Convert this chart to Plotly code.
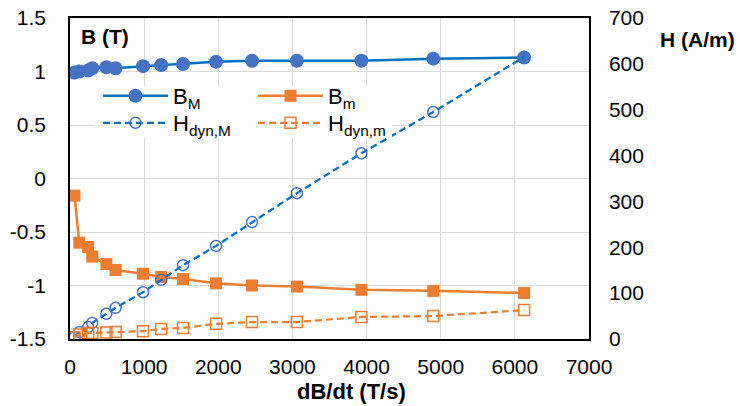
import plotly.graph_objects as go

dBdt = [60, 125, 245, 300, 490, 615, 985, 1230, 1525, 1970, 2455, 3060, 3930, 4900, 6125]
B_M = [0.99, 1.00, 1.01, 1.03, 1.04, 1.03, 1.05, 1.06, 1.07, 1.09, 1.10, 1.10, 1.10, 1.12, 1.13]
B_m = [-0.16, -0.60, -0.64, -0.73, -0.80, -0.855, -0.89, -0.92, -0.94, -0.98, -1.00, -1.01, -1.04, -1.05, -1.07]
H_dyn_M = [4, 15, 26, 35, 55, 68, 102, 129, 161, 203, 255, 318, 405, 495, 615]
H_dyn_m = [4, 10, 13, 13, 14, 15, 17, 22, 24, 33, 37, 37, 48, 50, 63]

x_ticks = [0, 1000, 2000, 3000, 4000, 5000, 6000, 7000]
yl_ticks = [-1.5, -1, -0.5, 0, 0.5, 1, 1.5]
yl_text = ["-1.5", "-1", "-0.5", "0", "0.5", "1", "1.5"]
yr_ticks = [0, 100, 200, 300, 400, 500, 600, 700]

BLUE_LINE = "#0070C0"
BLUE_MK = "#4472C4"
ORANGE = "#ED7D31"
FONT = "Liberation Sans, Arial, sans-serif"

fig = go.Figure()
fig.add_trace(go.Scatter(
    x=dBdt, y=B_M, name="B<sub>M</sub>", mode="lines+markers",
    line=dict(color=BLUE_LINE, width=2.5),
    marker=dict(symbol="circle", size=14, color=BLUE_MK, line=dict(width=0)),
    legend="legend"))
fig.add_trace(go.Scatter(
    x=dBdt, y=H_dyn_M, name="H<sub>dyn,M</sub>", mode="lines+markers", yaxis="y2",
    line=dict(color=BLUE_LINE, width=2.25, dash="7px,4px"),
    marker=dict(symbol="circle-open", size=11, color=BLUE_MK, line=dict(width=1.5, color=BLUE_MK)),
    legend="legend3"))
fig.add_trace(go.Scatter(
    x=dBdt, y=B_m, name="B<sub>m</sub>", mode="lines+markers",
    line=dict(color=ORANGE, width=2.5),
    marker=dict(symbol="square", size=12, color=ORANGE, line=dict(width=0)),
    legend="legend2"))
fig.add_trace(go.Scatter(
    x=dBdt, y=H_dyn_m, name="H<sub>dyn,m</sub>", mode="lines+markers", yaxis="y2",
    line=dict(color=ORANGE, width=2.25, dash="7px,4px"),
    marker=dict(symbol="square-open", size=11, color=ORANGE, line=dict(width=1.5, color=ORANGE)),
    legend="legend4"))

L, R, T, B = 70, 151, 18, 67
W = 740 - L - R
Hh = 406 - T - B

def px(xp):
    return (xp - L) / W

def py(yp):
    return (406 - B - yp) / Hh

def leg(xp, yp):
    return dict(x=px(xp), y=py(yp), xanchor="left", yanchor="middle", bgcolor="rgba(0,0,0,0)",
                borderwidth=0, font=dict(size=22), itemwidth=65, tracegroupgap=0)

fig.update_layout(
    width=740, height=406,
    margin=dict(l=L, r=R, t=T, b=B, autoexpand=False),
    paper_bgcolor="white", plot_bgcolor="white",
    font=dict(family=FONT, size=21, color="black"),
    showlegend=True,
    xaxis=dict(range=[0, 7000], tickvals=x_ticks, showgrid=True, gridcolor="#D9D9D9", gridwidth=1.3,
               showline=True, linecolor="black", linewidth=1.5, mirror=True, zeroline=False,
               ticks="", ticklabelstandoff=8, tickfont=dict(size=21), automargin=False),
    yaxis=dict(range=[-1.5, 1.5], tickvals=yl_ticks, ticktext=yl_text, showgrid=True,
               gridcolor="#D9D9D9", gridwidth=1.3, showline=True, linecolor="black", linewidth=1.5,
               mirror=True, zeroline=False, ticks="", ticklabelstandoff=18, tickfont=dict(size=21),
               automargin=False),
    yaxis2=dict(range=[0, 700], tickvals=yr_ticks, overlaying="y", side="right", showgrid=False,
                showline=True, linecolor="black", linewidth=1.5, zeroline=False, ticks="",
                ticklabelstandoff=14, tickfont=dict(size=21), automargin=False),
    legend=leg(98, 96),
    legend2=leg(253, 96),
    legend3=leg(98, 123),
    legend4=leg(253, 123),
    shapes=[dict(type="rect", xref="paper", yref="paper", x0=px(95), x1=px(392), y0=py(138), y1=py(86),
                 fillcolor="white", line=dict(width=0), layer="above")],
    annotations=[
        dict(text="<b>B (T)</b>", x=px(79), y=py(36), xref="paper", yref="paper",
             xanchor="left", yanchor="middle", showarrow=False, font=dict(size=21)),
        dict(text="<b>H (A/m)</b>", x=px(658), y=py(39), xref="paper", yref="paper",
             xanchor="left", yanchor="middle", showarrow=False, font=dict(size=21)),
        dict(text="<b>dB/dt (T/s)</b>", x=px(351), y=py(391), xref="paper", yref="paper",
             xanchor="center", yanchor="middle", showarrow=False, font=dict(size=22)),
    ],
)

fig.write_html("out.html", config={"displayModeBar": False},
               post_script="document.body.style.margin='0';document.body.style.overflow='hidden';")
